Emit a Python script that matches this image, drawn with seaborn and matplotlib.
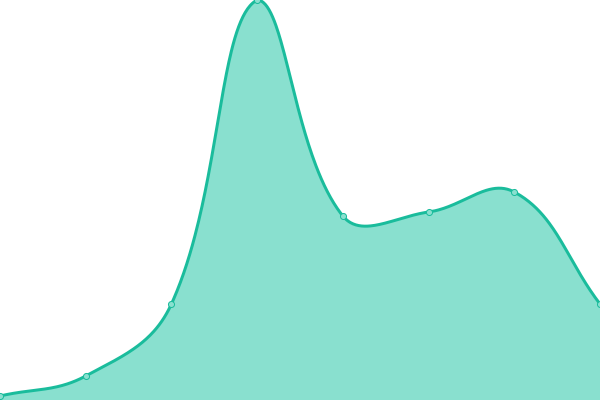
import numpy as np
import pandas as pd
import matplotlib
matplotlib.use("Agg")
import matplotlib.pyplot as plt
import seaborn as sns

# ---- data ----
categories = ["1", "2", "3", "4", "5", "6", "7", "8"]
values = [10, 60, 240, 1000, 460, 470, 520, 240]
y_max = 1000

line_color = "#1abc9c"
fill_color = "#89e0cf"

W, H = 600, 400
sns.set_theme(style="white")

fig = plt.figure(figsize=(W / 100, H / 100), dpi=100)
ax = fig.add_axes([0, 0, 1, 1])
n = len(categories)

# pixel-space points for spline smoothing (tension 0.4)
sx = W / (n - 1)
sy = H / y_max
P = np.array([[i * sx, v * sy] for i, v in enumerate(values)], dtype=float)


def spline_path(P, t=0.4, samples=80):
    m = len(P)
    lo = np.array([0.0, 0.0])
    hi = np.array([float(W), float(H)])
    cp_prev = []
    cp_next = []
    for i in range(m):
        cur = P[i]
        prev = P[i - 1] if i > 0 else cur
        nxt = P[i + 1] if i < m - 1 else cur
        d01 = np.linalg.norm(cur - prev)
        d12 = np.linalg.norm(nxt - cur)
        s = d01 + d12
        s01 = d01 / s if s else 0.0
        s12 = d12 / s if s else 0.0
        v = nxt - prev
        cp_prev.append(np.clip(cur - t * s01 * v, lo, hi))
        cp_next.append(np.clip(cur + t * s12 * v, lo, hi))
    tt = np.linspace(0, 1, samples)[1:, None]
    out = [P[0:1]]
    for i in range(1, m):
        a, b = cp_next[i - 1], cp_prev[i]
        p0, p3 = P[i - 1], P[i]
        seg = ((1 - tt) ** 3) * p0 + 3 * ((1 - tt) ** 2) * tt * a + 3 * (1 - tt) * tt ** 2 * b + tt ** 3 * p3
        out.append(seg)
    return np.vstack(out)


curve = spline_path(P)
cx = curve[:, 0] / sx
cy = curve[:, 1] / sy
df_curve = pd.DataFrame({"x": cx, "y": cy})
df_pts = pd.DataFrame({"x": np.arange(n), "y": values, "cat": categories})

ax.fill_between(cx, cy, 0, color=fill_color, linewidth=0, zorder=1)
sns.lineplot(data=df_curve, x="x", y="y", sort=False, estimator=None, ax=ax,
             color=line_color, linewidth=2.16, zorder=2)
ax.lines[-1].set_solid_capstyle("round")
ax.lines[-1].set_solid_joinstyle("round")
sns.scatterplot(data=df_pts, x="x", y="y", ax=ax, s=19, color=fill_color,
                edgecolor=line_color, linewidth=0.72, zorder=3, clip_on=False)
ax.set_xlim(0, n - 1)
ax.set_ylim(0, y_max)
ax.set_axis_off()

fig.savefig("out.png", dpi=100)
